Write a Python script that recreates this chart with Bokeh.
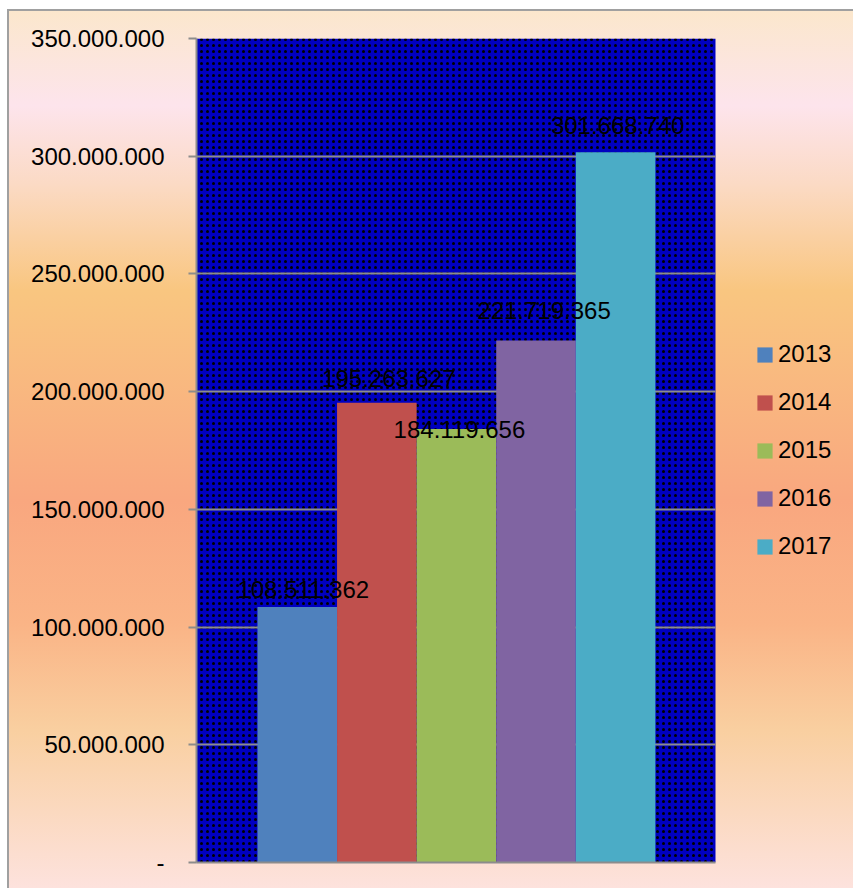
from bokeh.plotting import figure
from bokeh.models import ColumnDataSource, Range1d, FixedTicker, Legend, LegendItem, BoxAnnotation
from bokeh.embed import file_html
from bokeh.resources import INLINE
from bokeh.core.properties import value

# ---- data ----
years = ["2013", "2014", "2015", "2016", "2017"]
amounts = [108511362, 195263627, 184119656, 221719365, 301668740]
amount_labels = ["108.511.362", "195.263.627", "184.119.656", "221.719.365", "301.668.740"]
y_ticks = [0, 50000000, 100000000, 150000000, 200000000, 250000000, 300000000, 350000000]
y_tick_labels = ["-", "50.000.000", "100.000.000", "150.000.000", "200.000.000",
                 "250.000.000", "300.000.000", "350.000.000"]

# ---- styling ----
bar_colors = ["#4F81BD", "#C0504D", "#9BBB59", "#8064A2", "#4BACC6"]
label_dx = [6, 12, 3, 8, 2]
label_dy = [-18, -24, 0, -30, -27]
FONT = "Liberation Sans"

# plot-area extent in x (category units) and the wider frame that also hosts the legend
AREA_X = (-1.266, 5.255)
FRAME_X = (-1.266, 6.989)

src = ColumnDataSource(dict(
    x=list(range(len(years))),
    amount=amounts,
    label=amount_labels,
    color=bar_colors,
    dx=label_dx,
    dy=label_dy,
))

p = figure(width=853, height=888, output_backend="svg", toolbar_location=None,
           x_range=Range1d(*FRAME_X), y_range=Range1d(0, 350000000),
           min_border_left=196, min_border_right=0, min_border_top=38, min_border_bottom=26)

p.border_fill_color = None
p.background_fill_color = None
p.outline_line_color = None
p.styles = {
    "background": (
        "linear-gradient(#A0A0A0,#A0A0A0) 7px 9px / 2px calc(100% - 9px) no-repeat, "
        "linear-gradient(#A0A0A0,#A0A0A0) 7px 9px / calc(100% - 7px) 2px no-repeat, "
        "linear-gradient(to bottom, #FBE7CC 0%, #FDE4EC 11%, #FBDAC4 20%, "
        "#F9C680 32%, #F9A77F 56%, #FAB486 70%, #F9CFA0 82%, #FDE2DD 100%) "
        "7px 9px / calc(100% - 7px) calc(100% - 9px) no-repeat, #FFFFFF"
    ),
}

# patterned plot area
p.add_layout(BoxAnnotation(left=AREA_X[0], right=AREA_X[1],
                           fill_color="#0000C0", fill_alpha=1.0, line_color=None,
                           hatch_pattern="dot", hatch_color="black", hatch_scale=6,
                           hatch_weight=3, hatch_alpha=1.0, level="image"))

bars = p.vbar(x="x", top="amount", width=1.0, bottom=0, source=src,
              fill_color="color", line_color=None)

p.text(x="x", y="amount", text="label", source=src, x_offset="dx", y_offset="dy",
       text_align="center", text_baseline="middle", text_font=value(FONT),
       text_font_size="24px", text_color="black")

# axes
yax = p.yaxis[0]
yax.ticker = FixedTicker(ticks=y_ticks)
yax.major_label_overrides = {t: s for t, s in zip(y_ticks, y_tick_labels)}
yax.major_label_text_font = FONT
yax.major_label_text_font_size = "24px"
yax.major_label_text_color = "black"
yax.major_label_standoff = 24
yax.axis_line_color = "#8C8C8C"
yax.axis_line_width = 2
yax.major_tick_line_color = "#8C8C8C"
yax.major_tick_line_width = 2
yax.major_tick_out = 8
yax.major_tick_in = 0
yax.minor_tick_line_color = None

xax = p.xaxis[0]
xax.bounds = AREA_X
xax.axis_line_color = "#8C8C8C"
xax.axis_line_width = 2
xax.major_tick_line_color = None
xax.minor_tick_line_color = None
xax.major_tick_out = 0
xax.major_tick_in = 0
xax.major_label_standoff = 0
xax.major_label_text_font_size = "0px"
xax.major_label_text_alpha = 0

p.xgrid.grid_line_color = None
p.ygrid.ticker = FixedTicker(ticks=y_ticks)
p.ygrid.cross_bounds = AREA_X
p.ygrid.grid_line_color = "#8C8C8C"
p.ygrid.grid_line_width = 2

legend = Legend(items=[LegendItem(label=years[i], renderers=[bars], index=i) for i in range(len(years))],
                location=(559, 302), orientation="vertical")
legend.label_text_font = FONT
legend.label_text_font_size = "24px"
legend.label_text_color = "black"
legend.glyph_width = 19
legend.glyph_height = 19
legend.label_standoff = 4
legend.label_height = 24
legend.spacing = 20
legend.padding = 10
legend.margin = 0
legend.border_line_color = None
legend.background_fill_color = None
legend.background_fill_alpha = 0
p.add_layout(legend, "center")

open("out.html", "w").write(file_html(p, INLINE))
